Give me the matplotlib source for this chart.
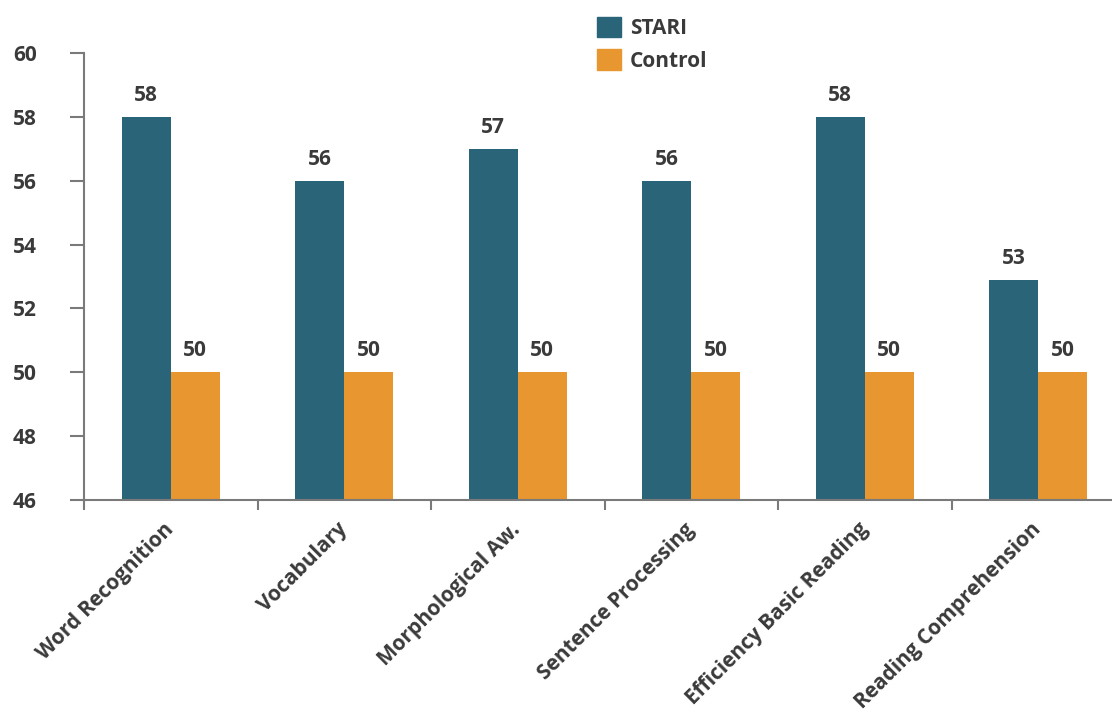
import matplotlib
matplotlib.use("Agg")
import matplotlib.pyplot as plt
from matplotlib.patches import Patch
import numpy as np

categories = ["Word Recognition", "Vocabulary", "Morphological Aw.",
              "Sentence Processing", "Efficiency Basic Reading", "Reading Comprehension"]
stari = [58, 56, 57, 56, 58, 52.9]
control = [50, 50, 50, 50, 50, 50]
stari_labels = ["58", "56", "57", "56", "58", "53"]
control_labels = ["50", "50", "50", "50", "50", "50"]
yticks = [46, 48, 50, 52, 54, 56, 58, 60]

TEAL = "#2a6478"
ORANGE = "#e8962f"
TXT = "#3a3a3a"
AX = "#7a7a7a"
FS = 15

plt.rcParams['font.family'] = ['Open Sans', 'DejaVu Sans']
plt.rcParams['font.weight'] = 'bold'

fig = plt.figure(figsize=(11.12, 7.15), dpi=100)
W, H = 1112, 715
left, right_px, top, bottom = 84, 84 + 6 * 173.5, 53, 500
ax = fig.add_axes([left / W, 1 - bottom / H, (right_px - left) / W, (bottom - top) / H])

x = np.arange(len(categories))
w = 0.282
b1 = ax.bar(x - w / 2, np.array(stari) - 46, w, bottom=46, color=TEAL)
b2 = ax.bar(x + w / 2, np.array(control) - 46, w, bottom=46, color=ORANGE)
for bars, labels in ((b1, stari_labels), (b2, control_labels)):
    for rect, lab in zip(bars, labels):
        ax.annotate(lab, (rect.get_x() + rect.get_width() / 2, rect.get_y() + rect.get_height()),
                    xytext=(0, 8), textcoords="offset points", ha="center", va="bottom",
                    fontsize=FS, fontweight="bold", color=TXT)

ax.set_xlim(-0.5, len(categories) - 0.5)
ax.set_ylim(46, 60)
ax.set_yticks(yticks)
ax.set_yticklabels([str(v) for v in yticks], fontsize=FS, fontweight="bold", color=TXT)

ax.set_xticks(x)
ax.set_xticklabels(categories, rotation=45, ha="right", va="center", rotation_mode="anchor",
                   fontsize=FS, fontweight="bold", color=TXT)
ax.tick_params(axis="x", which="major", length=0, pad=19)
ax.set_xticks(np.arange(len(categories) + 1) - 0.5, minor=True)
ax.tick_params(axis="x", which="minor", length=7, width=1.5, color=AX, direction="out")
ax.tick_params(axis="y", length=10, width=1.5, color=AX, pad=24)

for s in ["top", "right"]:
    ax.spines[s].set_visible(False)
for s in ["left", "bottom"]:
    ax.spines[s].set_color(AX)
    ax.spines[s].set_linewidth(1.5)

handles = [Patch(color=TEAL, label="STARI"), Patch(color=ORANGE, label="Control")]
fig.legend(handles=handles, loc="upper left", bbox_to_anchor=(578 / W, 1 + 2 / H),
           frameon=False, handlelength=1.15, handleheight=1.15,
           handletextpad=0.43, labelspacing=0.48, prop={"weight": "bold", "size": FS})
for t in fig.legends[0].get_texts():
    t.set_color(TXT)

fig.savefig("out.png", dpi=100)
